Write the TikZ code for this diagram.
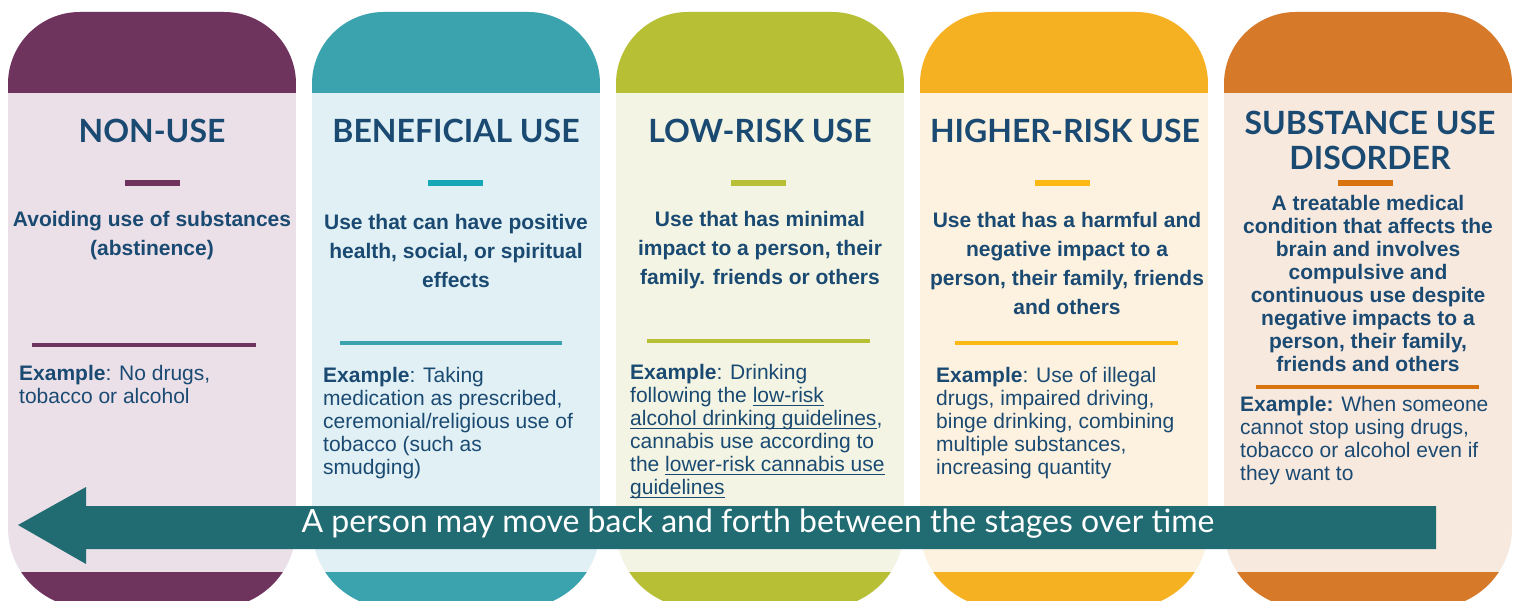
\documentclass[tikz,border=0pt]{standalone}
\usepackage{fontspec}
\setmainfont{Liberation Sans}
\newfontfamily\lato{Lato}
\definecolor{txt}{HTML}{1A4A72}
\definecolor{arr}{HTML}{216B72}
\definecolor{cAd}{HTML}{6E345E}\definecolor{cAl}{HTML}{EBE0E8}\definecolor{cAs}{HTML}{6E345E}
\definecolor{cBd}{HTML}{3AA3AD}\definecolor{cBl}{HTML}{E1F0F4}\definecolor{cBs}{HTML}{14A8B6}
\definecolor{cCd}{HTML}{B7BF34}\definecolor{cCl}{HTML}{F3F4E3}\definecolor{cCs}{HTML}{B7BF34}
\definecolor{cDd}{HTML}{F5B121}\definecolor{cDl}{HTML}{FDF1DF}\definecolor{cDs}{HTML}{FDB813}
\definecolor{cEd}{HTML}{D67A2A}\definecolor{cEl}{HTML}{F8E9DF}\definecolor{cEs}{HTML}{D9730D}
\newsavebox\lnkbox
\newcommand\lnk[1]{\sbox\lnkbox{#1}\rlap{\rule[-4pt]{\wd\lnkbox}{1.5pt}}\usebox\lnkbox}
\newcommand\stagecol[3]{%
  \begin{scope}
    \clip (#1,300) [rounded corners=72pt] |- ({#1+144},12) -| ({#1+288},300)
          [rounded corners=80pt] |- ({#1+144},608) -| (#1,300) -- cycle;
    \fill[#3] (#1,0) rectangle ({#1+288},620);
    \fill[#2] (#1,0) rectangle ({#1+288},93);
    \fill[#2] (#1,572) rectangle ({#1+288},620);
  \end{scope}}
\tikzset{
  title/.style={font=\lato\bfseries\fontsize{32}{35}\selectfont, text=txt, align=center, inner sep=0pt},
  sub/.style={font=\bfseries\fontsize{21}{29}\selectfont, text=txt, align=center, inner sep=0pt, anchor=north},
  subtight/.style={sub, font=\bfseries\fontsize{21}{23}\selectfont},
  exmp/.style={font=\fontsize{21}{23}\selectfont, text=txt, align=left, inner sep=0pt, anchor=north west},
  dashbar/.style={line width=6pt},
  rulebar/.style={line width=4pt},
}
\begin{document}
\begin{tikzpicture}[x=1pt,y=-1pt]
\useasboundingbox (0,0) rectangle (1518,601);
\clip (0,0) rectangle (1518,601);
\fill[white] (0,0) rectangle (1518,601);
\stagecol{8}{cAd}{cAl}
\stagecol{312}{cBd}{cBl}
\stagecol{616}{cCd}{cCl}
\stagecol{920}{cDd}{cDl}
\stagecol{1224}{cEd}{cEl}
% titles
\node[title] (t1) at (152,131) {NON-USE};
\node[title] (t2) at (456,131) {BENEFICIAL USE};
\node[title] (t3) at (760,131) {LOW-RISK USE};
\node[title] (t4) at (1065,131) {HIGHER-RISK USE};
\node[title] (t5) at (1370,140.5) {SUBSTANCE USE\\DISORDER};
% short dashes
\draw[dashbar,cAs] (125,183) -- (180,183);
\draw[dashbar,cBs] (428,183) -- (483,183);
\draw[dashbar,cCs] (731,183) -- (786,183);
\draw[dashbar,cDs] (1035,183) -- (1090,183);
\draw[dashbar,cEs] (1338,183) -- (1393,183);
% subtitles
\node[sub] (s1) at (152,211) {Avoiding use of substances\\(abstinence)};
\node[sub] (s2) at (456,214) {Use that can have positive\\health, social, or spiritual\\effects};
\node[sub] (s3) at (760,211) {Use that has minimal\\impact to a person, their\\family. friends or others};
\node[sub] (s4) at (1067,212) {Use that has a harmful and\\negative impact to a\\person, their family, friends\\and others};
\node[subtight] (s5) at (1368,195) {A treatable medical\\condition that affects the\\brain and involves\\compulsive and\\continuous use despite\\negative impacts to a\\person, their family,\\friends and others};
% long rules
\draw[rulebar,cAd] (32,345) -- (256,345);
\draw[rulebar,cBd] (340,343) -- (562,343);
\draw[rulebar,cCd] (647,341) -- (870,341);
\draw[rulebar,cDs] (955,343) -- (1178,343);
\draw[rulebar,cEs] (1256,387) -- (1479,387);
% examples
\node[exmp] (e1) at (19,365) {\textbf{Example}: No drugs,\\tobacco or alcohol};
\node[exmp] (e2) at (323,367) {\textbf{Example}: Taking\\medication as prescribed,\\ceremonial/religious use of\\tobacco (such as\\smudging)};
\node[exmp] (e3) at (630,364) {\textbf{Example}: Drinking\\following the \lnk{low-risk}\\\lnk{alcohol drinking guidelines},\\cannabis use according to\\the \lnk{lower-risk cannabis use}\\\lnk{guidelines}};
\node[exmp] (e4) at (936,367) {\textbf{Example}: Use of illegal\\drugs, impaired driving,\\binge drinking, combining\\multiple substances,\\increasing quantity};
\node[exmp] (e5) at (1240,396) {\textbf{Example:} When someone\\cannot stop using drugs,\\tobacco or alcohol even if\\they want to};
% arrow
\fill[arr] (1436,506) -- (86,506) -- (86,487) -- (18,525) -- (86,564) -- (86,549) -- (1436,549) -- cycle;
\node[font=\lato\fontsize{32}{32}\selectfont, text=white, inner sep=0pt] (atext) at (758,524) {A person may move back and forth between the stages over time};
\end{tikzpicture}
\end{document}
